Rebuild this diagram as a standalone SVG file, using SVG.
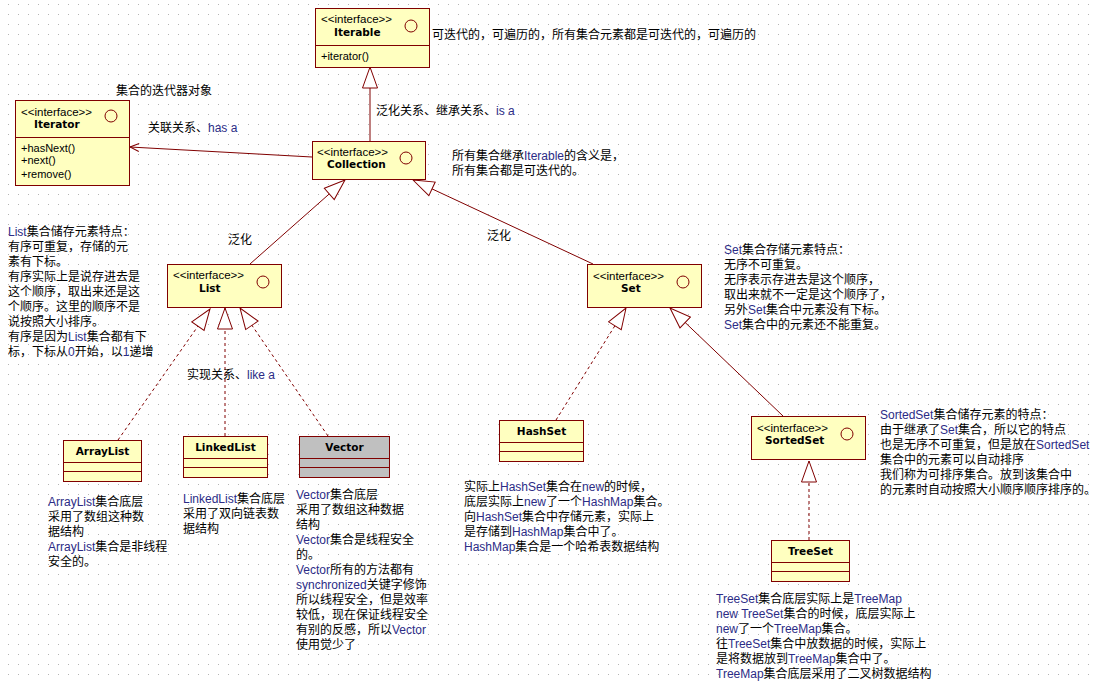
<svg xmlns="http://www.w3.org/2000/svg" width="1096" height="683" viewBox="0 0 1096 683">
  <defs>
    <style>
      .box { fill: #ffffc0; stroke: #800000; stroke-width: 1; }
      .gray { fill: #c0c0c0; stroke: #800000; stroke-width: 1; }
      .div { stroke: #800000; stroke-width: 1; fill: none; }
      .ico { fill: none; stroke: #800000; stroke-width: 1; }
      .st { font-family: "Liberation Sans", "Noto Sans CJK SC", sans-serif; font-size: 11.5px; fill: #000; }
      .nm { font-family: "DejaVu Sans", sans-serif; font-size: 10.5px; font-weight: bold; fill: #000; }
      .op { font-family: "Liberation Sans", sans-serif; font-size: 11px; fill: #000; }
      .note { font-family: "Liberation Sans", "Noto Sans CJK SC", sans-serif; font-size: 12px; fill: #000; }
      .en { fill: #2c2c86; }
      .solid { stroke: #800000; stroke-width: 1; fill: none; }
      .dash { stroke: #800000; stroke-width: 1; fill: none; stroke-dasharray: 3 3; }
    </style>
    <pattern id="grid" width="10" height="10" patternUnits="userSpaceOnUse">
      <rect x="8" y="4" width="1" height="1" fill="#b4b4b4"/>
    </pattern>
    <!-- hollow triangle for generalization / realization -->
    <marker id="tri" viewBox="-1 -1 23 17" refX="21" refY="7.5" markerWidth="23" markerHeight="17" markerUnits="userSpaceOnUse" orient="auto">
      <path d="M0,0 L21,7.5 L0,15 Z" fill="#ffffff" stroke="#800000" stroke-width="1"/>
    </marker>
    <!-- open arrow for association -->
    <marker id="open" viewBox="-1 -1 11 10" refX="9" refY="4" markerWidth="11" markerHeight="10" markerUnits="userSpaceOnUse" orient="auto">
      <path d="M0,0 L9,4 L0,8" fill="none" stroke="#800000" stroke-width="1"/>
    </marker>
  </defs>

  <rect width="1096" height="683" fill="#ffffff"/>
  <rect width="1096" height="683" fill="url(#grid)"/>

  <!-- connectors -->
  <g id="connectors">
    <line class="solid" x1="370" y1="141" x2="370" y2="67" marker-end="url(#tri)"/>
    <line class="solid" x1="312" y1="157" x2="130" y2="147" marker-end="url(#open)"/>
    <line class="solid" x1="250" y1="264" x2="345" y2="180" marker-end="url(#tri)"/>
    <line class="solid" x1="593" y1="264" x2="413" y2="180" marker-end="url(#tri)"/>
    <line class="dash" x1="118" y1="440" x2="210" y2="309" marker-end="url(#tri)"/>
    <line class="dash" x1="225" y1="436" x2="225" y2="308" marker-end="url(#tri)"/>
    <line class="dash" x1="328" y1="436" x2="240" y2="308" marker-end="url(#tri)"/>
    <line class="dash" x1="556" y1="420" x2="626" y2="308" marker-end="url(#tri)"/>
    <line class="solid" x1="783" y1="416" x2="670" y2="308" marker-end="url(#tri)"/>
    <line class="dash" x1="809" y1="540" x2="809" y2="461" marker-end="url(#tri)"/>

    <text class="note" x="376" y="115">泛化关系、继承关系、<tspan class="en">is a</tspan></text>
    <text class="note" x="148" y="132">关联关系、<tspan class="en">has a</tspan></text>
    <text class="note" x="228" y="244">泛化</text>
    <text class="note" x="487" y="240">泛化</text>
    <text class="note" x="187" y="379">实现关系、<tspan class="en">like a</tspan></text>
  </g>

  <!-- Iterable -->
  <g id="iterable">
    <rect class="box" x="315.5" y="8.5" width="114" height="59"/>
    <line class="div" x1="315.5" y1="45.5" x2="429.5" y2="45.5"/>
    <circle class="ico" cx="411" cy="26" r="6"/>
    <text class="st" x="321" y="23">&lt;&lt;interface&gt;&gt;</text>
    <text class="nm" x="334" y="36">Iterable</text>
    <text class="op" x="321" y="60">+iterator()</text>
    <text class="note" x="432" y="39">可迭代的，可遍历的，所有集合元素都是可迭代的，可遍历的</text>
  </g>

  <!-- Iterator -->
  <g id="iterator">
    <rect class="box" x="15.5" y="100.5" width="114" height="85"/>
    <line class="div" x1="15.5" y1="137.5" x2="129.5" y2="137.5"/>
    <circle class="ico" cx="111" cy="116" r="6"/>
    <text class="st" x="21" y="116">&lt;&lt;interface&gt;&gt;</text>
    <text class="nm" x="34" y="128">Iterator</text>
    <text class="op" x="21" y="152">+hasNext()</text>
    <text class="op" x="21" y="164">+next()</text>
    <text class="op" x="21" y="178">+remove()</text>
    <text class="note" x="116" y="95">集合的迭代器对象</text>
  </g>

  <!-- Collection -->
  <g id="collection">
    <rect class="box" x="312.5" y="141.5" width="113" height="38"/>
    <circle class="ico" cx="406" cy="158" r="6"/>
    <text class="st" x="317" y="156">&lt;&lt;interface&gt;&gt;</text>
    <text class="nm" x="327" y="168">Collection</text>
    <text class="note" x="452" y="160">所有集合继承<tspan class="en">Iterable</tspan>的含义是，</text>
    <text class="note" x="452" y="175">所有集合都是可迭代的。</text>
  </g>

  <!-- List -->
  <g id="list">
    <rect class="box" x="167.5" y="264.5" width="114" height="43"/>
    <circle class="ico" cx="263" cy="282" r="6"/>
    <text class="st" x="173" y="279">&lt;&lt;interface&gt;&gt;</text>
    <text class="nm" x="199" y="292">List</text>
    <text class="note">
      <tspan x="8" y="236"><tspan class="en">List</tspan>集合储存元素特点：</tspan>
      <tspan x="8" dy="15">有序可重复，存储的元</tspan>
      <tspan x="8" dy="15">素有下标。</tspan>
      <tspan x="8" dy="15">有序实际上是说存进去是</tspan>
      <tspan x="8" dy="15">这个顺序，取出来还是这</tspan>
      <tspan x="8" dy="15">个顺序。这里的顺序不是</tspan>
      <tspan x="8" dy="15">说按照大小排序。</tspan>
      <tspan x="8" dy="15">有序是因为<tspan class="en">List</tspan>集合都有下</tspan>
      <tspan x="8" dy="15">标，下标从<tspan class="en">0</tspan>开始，以<tspan class="en">1</tspan>递增</tspan>
    </text>
  </g>

  <!-- Set -->
  <g id="set">
    <rect class="box" x="587.5" y="264.5" width="114" height="43"/>
    <circle class="ico" cx="683" cy="282" r="6"/>
    <text class="st" x="593" y="280">&lt;&lt;interface&gt;&gt;</text>
    <text class="nm" x="621" y="292">Set</text>
    <text class="note">
      <tspan x="724" y="254"><tspan class="en">Set</tspan>集合存储元素特点：</tspan>
      <tspan x="724" dy="15">无序不可重复。</tspan>
      <tspan x="724" dy="15">无序表示存进去是这个顺序，</tspan>
      <tspan x="724" dy="15">取出来就不一定是这个顺序了，</tspan>
      <tspan x="724" dy="15">另外<tspan class="en">Set</tspan>集合中元素没有下标。</tspan>
      <tspan x="724" dy="15"><tspan class="en">Set</tspan>集合中的元素还不能重复。</tspan>
    </text>
  </g>

  <!-- ArrayList -->
  <g id="arraylist">
    <rect class="box" x="63.5" y="440.5" width="78" height="41"/>
    <line class="div" x1="63.5" y1="462.5" x2="141.5" y2="462.5"/>
    <line class="div" x1="63.5" y1="471.5" x2="141.5" y2="471.5"/>
    <text class="nm" x="102.5" y="455" text-anchor="middle">ArrayList</text>
    <text class="note">
      <tspan x="48" y="506"><tspan class="en">ArrayList</tspan>集合底层</tspan>
      <tspan x="48" dy="15">采用了数组这种数</tspan>
      <tspan x="48" dy="15">据结构</tspan>
      <tspan x="48" dy="15"><tspan class="en">ArrayList</tspan>集合是非线程</tspan>
      <tspan x="48" dy="15">安全的。</tspan>
    </text>
  </g>

  <!-- LinkedList -->
  <g id="linkedlist">
    <rect class="box" x="183.5" y="436.5" width="84" height="41"/>
    <line class="div" x1="183.5" y1="458.5" x2="267.5" y2="458.5"/>
    <line class="div" x1="183.5" y1="467.5" x2="267.5" y2="467.5"/>
    <text class="nm" x="225.5" y="451" text-anchor="middle">LinkedList</text>
    <text class="note">
      <tspan x="183" y="503"><tspan class="en">LinkedList</tspan>集合底层</tspan>
      <tspan x="183" dy="15">采用了双向链表数</tspan>
      <tspan x="183" dy="15">据结构</tspan>
    </text>
  </g>

  <!-- Vector -->
  <g id="vector">
    <rect class="gray" x="299.5" y="436.5" width="90" height="41"/>
    <line class="div" x1="299.5" y1="458.5" x2="389.5" y2="458.5"/>
    <line class="div" x1="299.5" y1="467.5" x2="389.5" y2="467.5"/>
    <text class="nm" x="344.5" y="451" text-anchor="middle">Vector</text>
    <text class="note">
      <tspan x="296" y="499"><tspan class="en">Vector</tspan>集合底层</tspan>
      <tspan x="296" dy="15">采用了数组这种数据</tspan>
      <tspan x="296" dy="15">结构</tspan>
      <tspan x="296" dy="15"><tspan class="en">Vector</tspan>集合是线程安全</tspan>
      <tspan x="296" dy="15">的。</tspan>
      <tspan x="296" dy="15"><tspan class="en">Vector</tspan>所有的方法都有</tspan>
      <tspan x="296" dy="15"><tspan class="en">synchronized</tspan>关键字修饰</tspan>
      <tspan x="296" dy="15">所以线程安全，但是效率</tspan>
      <tspan x="296" dy="15">较低，现在保证线程安全</tspan>
      <tspan x="296" dy="15">有别的反感，所以<tspan class="en">Vector</tspan></tspan>
      <tspan x="296" dy="15">使用觉少了</tspan>
    </text>
  </g>

  <!-- HashSet -->
  <g id="hashset">
    <rect class="box" x="499.5" y="420.5" width="84" height="41"/>
    <line class="div" x1="499.5" y1="442.5" x2="583.5" y2="442.5"/>
    <line class="div" x1="499.5" y1="451.5" x2="583.5" y2="451.5"/>
    <text class="nm" x="541.5" y="435" text-anchor="middle">HashSet</text>
    <text class="note">
      <tspan x="464" y="491">实际上<tspan class="en">HashSet</tspan>集合在<tspan class="en">new</tspan>的时候，</tspan>
      <tspan x="464" dy="15">底层实际上<tspan class="en">new</tspan>了一个<tspan class="en">HashMap</tspan>集合。</tspan>
      <tspan x="464" dy="15">向<tspan class="en">HashSet</tspan>集合中存储元素，实际上</tspan>
      <tspan x="464" dy="15">是存储到<tspan class="en">HashMap</tspan>集合中了。</tspan>
      <tspan x="464" dy="15"><tspan class="en">HashMap</tspan>集合是一个哈希表数据结构</tspan>
    </text>
  </g>

  <!-- SortedSet -->
  <g id="sortedset">
    <rect class="box" x="751.5" y="416.5" width="114" height="43"/>
    <circle class="ico" cx="847" cy="434" r="6"/>
    <text class="st" x="757" y="432">&lt;&lt;interface&gt;&gt;</text>
    <text class="nm" x="765" y="444">SortedSet</text>
    <text class="note">
      <tspan x="880" y="419"><tspan class="en">SortedSet</tspan>集合储存元素的特点：</tspan>
      <tspan x="880" dy="15">由于继承了<tspan class="en">Set</tspan>集合，所以它的特点</tspan>
      <tspan x="880" dy="15">也是无序不可重复，但是放在<tspan class="en">SortedSet</tspan></tspan>
      <tspan x="880" dy="15">集合中的元素可以自动排序</tspan>
      <tspan x="880" dy="15">我们称为可排序集合。放到该集合中</tspan>
      <tspan x="880" dy="15">的元素时自动按照大小顺序顺序排序的。</tspan>
    </text>
  </g>

  <!-- TreeSet -->
  <g id="treeset">
    <rect class="box" x="771.5" y="540.5" width="78" height="41"/>
    <line class="div" x1="771.5" y1="562.5" x2="849.5" y2="562.5"/>
    <line class="div" x1="771.5" y1="571.5" x2="849.5" y2="571.5"/>
    <text class="nm" x="810.5" y="555" text-anchor="middle">TreeSet</text>
    <text class="note">
      <tspan x="716" y="603"><tspan class="en">TreeSet</tspan>集合底层实际上是<tspan class="en">TreeMap</tspan></tspan>
      <tspan x="716" dy="15"><tspan class="en">new TreeSet</tspan>集合的时候，底层实际上</tspan>
      <tspan x="716" dy="15"><tspan class="en">new</tspan>了一个<tspan class="en">TreeMap</tspan>集合。</tspan>
      <tspan x="716" dy="15">往<tspan class="en">TreeSet</tspan>集合中放数据的时候，实际上</tspan>
      <tspan x="716" dy="15">是将数据放到<tspan class="en">TreeMap</tspan>集合中了。</tspan>
      <tspan x="716" dy="15"><tspan class="en">TreeMap</tspan>集合底层采用了二叉树数据结构</tspan>
    </text>
  </g>
</svg>
